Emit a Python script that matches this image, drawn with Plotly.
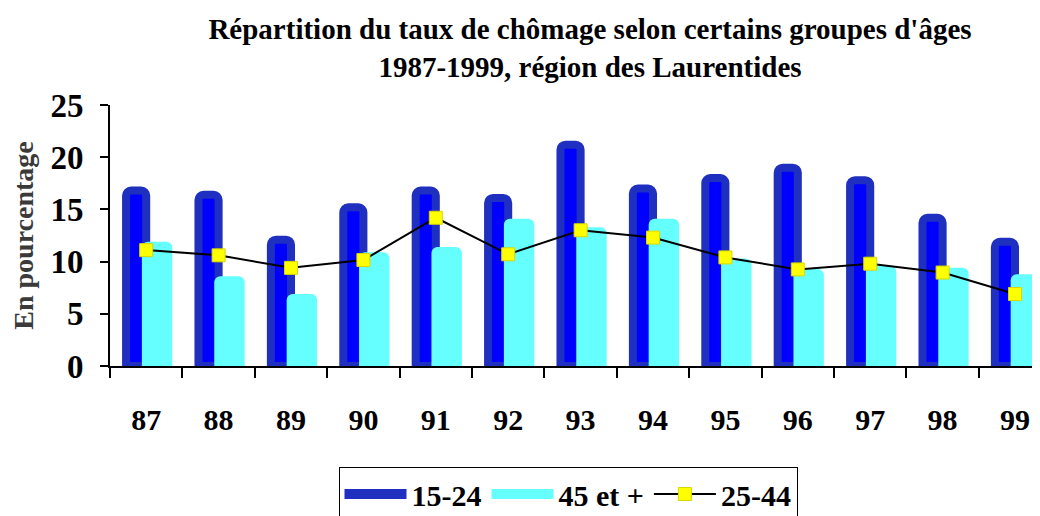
import plotly.graph_objects as go

years = ["87", "88", "89", "90", "91", "92", "93", "94", "95", "96", "97", "98", "99"]
g15_24 = [16.8, 16.4, 12.1, 15.2, 16.8, 16.1, 21.2, 17.0, 18.0, 19.0, 17.8, 14.2, 11.9]
g45_plus = [11.9, 8.6, 6.9, 10.9, 11.4, 14.1, 13.3, 14.1, 10.3, 9.3, 9.6, 9.4, 8.8]
g25_44 = [11.1, 10.6, 9.4, 10.15, 14.2, 10.7, 13.0, 12.3, 10.4, 9.25, 9.8, 8.95, 6.9]

FONT = "Liberation Serif, Times New Roman, serif"
DARK_EDGE = "#1f2fbf"
DARK_FILL = "#0000ff"
CYAN = "#66ffff"

# The page body has an 8px default margin: the figure is sized to fit the window.
W, H = 1032, 508

fig = go.Figure()
fig.add_trace(go.Bar(
    x=years, y=g15_24, name="15-24", showlegend=False,
    width=0.278, offset=-0.278,
    marker=dict(color=DARK_FILL, line=dict(color=DARK_EDGE, width=8), cornerradius=5),
))
fig.add_trace(go.Bar(
    x=years, y=g45_plus, name="45 et +", showlegend=False,
    width=0.42, offset=-0.06,
    marker=dict(color=CYAN, line=dict(width=0), cornerradius=6),
))
fig.add_trace(go.Scatter(
    x=years, y=g25_44, name="25-44", mode="lines+markers", showlegend=False,
    line=dict(color="black", width=2),
    marker=dict(symbol="square", size=13, color="#ffff00", line=dict(color="#d8d800", width=1)),
))

# legend-only entries (wide swatches like the original legend)
fig.add_trace(go.Scatter(x=[None], y=[None], name="15-24", mode="lines",
                         line=dict(color=DARK_EDGE, width=22)))
fig.add_trace(go.Scatter(x=[None], y=[None], name="45 et +", mode="lines",
                         line=dict(color=CYAN, width=22)))
fig.add_trace(go.Scatter(x=[None], y=[None], name="25-44", mode="lines+markers",
                         line=dict(color="black", width=2),
                         marker=dict(symbol="square", size=13, color="#ffff00",
                                     line=dict(color="#d8d800", width=1))))

fig.update_layout(
    width=W, height=H,
    margin=dict(l=102, r=0, t=97, b=150),
    paper_bgcolor="white", plot_bgcolor="white",
    barmode="overlay",
    font=dict(family=FONT, color="black", size=30, weight="bold"),
    title=dict(
        text="Répartition du taux de chômage selon certains groupes d'âges<br>1987-1999, région des Laurentides",
        x=582 / W, xanchor="center", xref="container",
        y=1 - 31 / H, yanchor="middle", yref="container",
        font=dict(family=FONT, size=29, color="black", weight="bold"),
        automargin=False,
    ),
    showlegend=True,
    legend=dict(
        orientation="h", x=560 / W, xanchor="center", xref="container",
        y=1 - 459 / H, yanchor="top", yref="container",
        bordercolor="black", borderwidth=1, bgcolor="white",
        font=dict(family=FONT, size=30, color="black", weight="bold"),
        itemwidth=62, traceorder="normal",
    ),
    xaxis=dict(
        type="category", range=[-0.5, 12.345], automargin=False,
        showline=True, linecolor="black", linewidth=2,
        ticks="outside", ticklen=10, tickwidth=2, tickcolor="black",
        tickson="boundaries", ticklabelstandoff=26,
        showgrid=False, zeroline=False,
        tickfont=dict(family=FONT, size=30, color="black", weight="bold"),
    ),
    yaxis=dict(
        range=[0, 25], dtick=5, automargin=False,
        showline=True, linecolor="black", linewidth=2,
        ticks="outside", ticklen=8, tickwidth=2, tickcolor="black",
        showgrid=False, zeroline=False, ticklabelstandoff=10,
        tickfont=dict(family=FONT, size=33, color="black", weight="bold"),
        title=dict(text="En pourcentage", standoff=12,
                   font=dict(family=FONT, size=28, color="#3a3a3a", weight="bold")),
    ),
)

fig.write_html("out.html")
